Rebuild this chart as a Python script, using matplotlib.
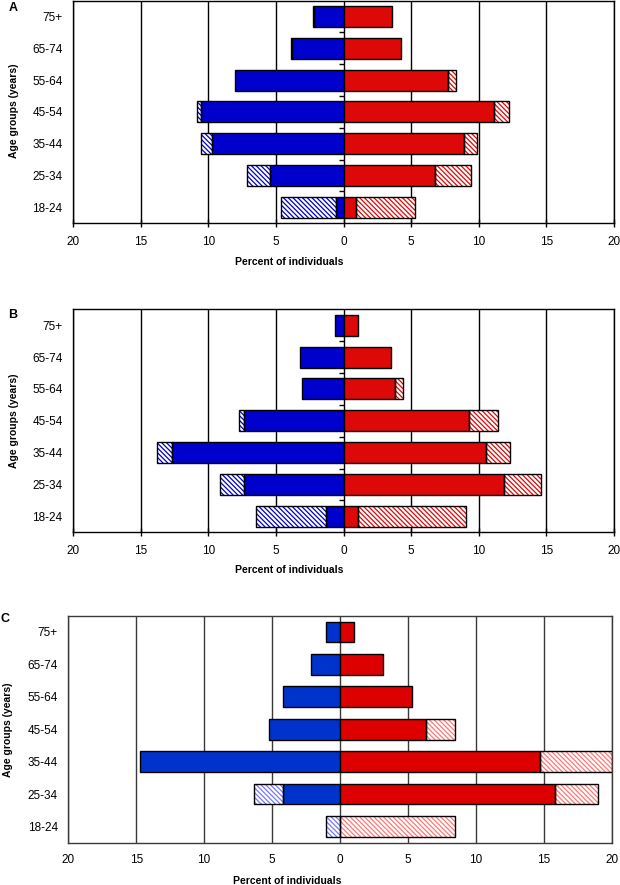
import numpy as np
import matplotlib
matplotlib.use('Agg')
import matplotlib.pyplot as plt

plt.rcParams['font.family'] = ['Liberation Sans', 'DejaVu Sans']

# ---------------- data ----------------
categories = ['18-24', '25-34', '35-44', '45-54', '55-64', '65-74', '75+']
x_ticks = [-20, -15, -10, -5, 0, 5, 10, 15, 20]
x_tick_labels = ['20', '15', '10', '5', '0', '5', '10', '15', '20']
panel_letters = ['A', 'B', 'C']
x_label = 'Percent of individuals'
y_label = 'Age groups (years)'

# Panel A
a_left_solid = [0.55, 5.4, 9.75, 10.5, 8.0, 3.8, 2.2]
a_left_total = [4.6, 7.15, 10.5, 10.85, 8.0, 3.9, 2.25]
a_right_solid = [0.9, 6.8, 8.9, 11.15, 7.7, 4.25, 3.6]
a_right_total = [5.3, 9.4, 9.9, 12.2, 8.3, 4.25, 3.6]

# Panel B
b_left_solid = [1.3, 7.35, 12.65, 7.35, 3.05, 3.25, 0.65]
b_left_total = [6.5, 9.15, 13.8, 7.7, 3.05, 3.25, 0.65]
b_right_solid = [1.1, 11.9, 10.5, 9.25, 3.8, 3.5, 1.1]
b_right_total = [9.05, 14.6, 12.3, 11.4, 4.4, 3.5, 1.1]

# Panel C
c_left_solid = [0.0, 4.2, 14.7, 5.25, 4.2, 2.1, 1.05]
c_left_total = [1.05, 6.35, 14.7, 5.25, 4.2, 2.1, 1.05]
c_right_solid = [0.0, 15.8, 14.75, 6.35, 5.3, 3.2, 1.05]
c_right_total = [8.5, 19.0, 20.0, 8.5, 5.3, 3.2, 1.05]

W, H = 620, 885
fig = plt.figure(figsize=(W / 100, H / 100), dpi=100)


def fig_axes(left, top, right, bottom):
    return fig.add_axes([left / W, 1 - bottom / H, (right - left) / W, (bottom - top) / H])


def hbar_segments(ax, y, starts, ends, color, hatch_color, hatched, height, hatch):
    for yi, s, e in zip(y, starts, ends):
        w = e - s
        if abs(w) < 1e-9:
            continue
        if hatched:
            ax.barh(yi, w, left=s, height=height, color='white',
                    edgecolor=hatch_color, hatch=hatch, linewidth=0, zorder=2)
            ax.barh(yi, w, left=s, height=height, fill=False,
                    edgecolor='black', linewidth=1.0, zorder=3)
        else:
            ax.barh(yi, w, left=s, height=height, color=color,
                    edgecolor='black', linewidth=1.0, zorder=3)


def draw_panel(ax, ls, lt, rs, rt, blue, red, hblue, hred, grid_color,
               height, hatch, zero_ticks, x_ticklen, xpad, ypad):
    y = np.arange(len(categories))
    ls = np.array(ls); lt = np.array(lt); rs = np.array(rs); rt = np.array(rt)
    # solid
    hbar_segments(ax, y, -ls, np.zeros_like(ls), blue, None, False, height, hatch)
    hbar_segments(ax, y, np.zeros_like(rs), rs, red, None, False, height, hatch)
    # hatched
    hbar_segments(ax, y, -lt, -ls, blue, hblue, True, height, hatch)
    hbar_segments(ax, y, rs, rt, red, hred, True, height, hatch)

    ax.set_xlim(-20, 20)
    ax.set_ylim(-0.5, len(categories) - 0.5)
    ax.set_xticks(x_ticks)
    ax.set_xticklabels(x_tick_labels, fontsize=8.5)
    ax.set_yticks(y)
    ax.set_yticklabels(categories, fontsize=8.5)
    ax.grid(axis='x', color=grid_color, linewidth=1.0, zorder=0)
    ax.grid(axis='y', visible=False)
    ax.set_axisbelow(True)
    for sp in ax.spines.values():
        sp.set_color(grid_color)
        sp.set_linewidth(1.0)
    ax.tick_params(axis='y', length=0, pad=ypad)
    if x_ticklen > 0:
        ax.tick_params(axis='x', direction='inout', length=x_ticklen,
                       width=1.0, color=grid_color, pad=xpad)
    else:
        ax.tick_params(axis='x', length=0, pad=xpad)
    if zero_ticks:
        ax.hlines(y[:-1] + 0.5, -0.3, 0, color='black', linewidth=1.0, zorder=4)


plt.rcParams['hatch.linewidth'] = 0.9

axA = fig_axes(73, 0.5, 614, 223.3)
draw_panel(axA, a_left_solid, a_left_total, a_right_solid, a_right_total,
           '#0000cc', '#dd0808', '#0000cc', '#dd0808', 'black',
           0.66, '\\\\\\\\\\\\\\', True, 6, 6, 7.5)

axB = fig_axes(73, 309.3, 614, 532.3)
draw_panel(axB, b_left_solid, b_left_total, b_right_solid, b_right_total,
           '#0000cc', '#dd0808', '#0000cc', '#dd0808', 'black',
           0.66, '\\\\\\\\\\\\\\', True, 6, 6, 7.5)

axC = fig_axes(68.3, 615.7, 611.7, 842.7)
draw_panel(axC, c_left_solid, c_left_total, c_right_solid, c_right_total,
           '#0033cc', '#dd0000', '#7777ff', '#ff7777', '#3a3a3a',
           0.64, '\\\\\\\\\\\\\\', False, 0, 8, 7.5)

# labels
for letter, (lx, ly) in zip(panel_letters, [(13, 8), (13, 315), (5, 619)]):
    fig.text(lx / W, 1 - ly / H, letter, fontsize=9, fontweight='bold',
             ha='center', va='center')
for (lx, ly) in [(289, 262.3), (289, 570), (287.4, 880.5)]:
    fig.text(lx / W, 1 - ly / H, x_label, fontsize=7.5, fontweight='bold',
             ha='center', va='center')
for (lx, ly) in [(14, 111), (14, 420.8), (8.5, 730)]:
    fig.text(lx / W, 1 - ly / H, y_label, fontsize=7.5, fontweight='bold',
             ha='center', va='center', rotation=90)

fig.savefig('out.png', dpi=100)
